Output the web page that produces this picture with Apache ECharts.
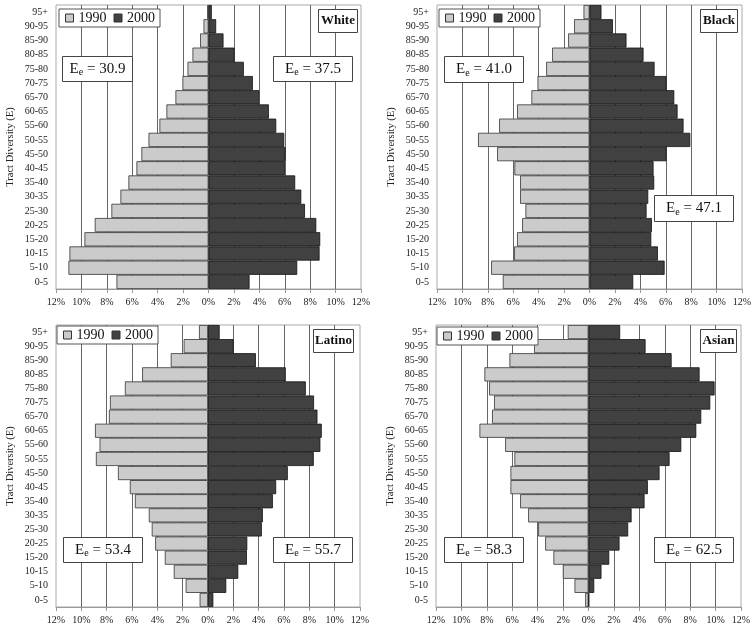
<!DOCTYPE html>
<html><head><meta charset="utf-8">
<script src="https://cdn.jsdelivr.net/npm/echarts@6/dist/echarts.min.js"></script>
<style>html,body{margin:0;padding:0;background:#fff}#c{width:756px;height:631px}</style>
</head><body><div id="c"></div>
<script>
// Categories bottom -> top
const categories = ['0-5','5-10','10-15','15-20','20-25','25-30','30-35','35-40','40-45','45-50','50-55','55-60','60-65','65-70','70-75','75-80','80-85','85-90','90-95','95+'];
const seriesNames = ['1990', '2000'];
const panelNames = ['White', 'Black', 'Latino', 'Asian'];

const white1990 = [7.24, 11.02, 10.94, 9.76, 8.95, 7.64, 6.93, 6.3, 5.67, 5.28, 4.72, 3.86, 3.31, 2.6, 2.05, 1.65, 1.26, 0.66, 0.39, 0.1];
const white2000 = [3.23, 6.98, 8.74, 8.79, 8.48, 7.59, 7.3, 6.82, 6.01, 6.06, 5.96, 5.33, 4.75, 3.99, 3.49, 2.78, 2.05, 1.18, 0.6, 0.26];
const black1990 = [6.82, 7.74, 5.93, 5.7, 5.3, 5.04, 5.46, 5.46, 5.91, 7.27, 8.77, 7.11, 5.7, 4.57, 4.09, 3.41, 2.94, 1.68, 1.21, 0.47];
const black2000 = [3.44, 5.91, 5.38, 4.86, 4.91, 4.49, 4.62, 5.09, 5.04, 6.06, 7.93, 7.4, 6.93, 6.67, 6.06, 5.12, 4.25, 2.91, 1.84, 0.94];
const latino1990 = [0.66, 1.76, 2.7, 3.41, 4.17, 4.44, 4.67, 5.77, 6.17, 7.11, 8.85, 8.56, 8.92, 7.82, 7.74, 6.56, 5.2, 2.94, 1.92, 0.71];
const latino2000 = [0.42, 1.44, 2.39, 3.07, 3.1, 4.25, 4.33, 5.12, 5.38, 6.3, 8.35, 8.87, 8.98, 8.64, 8.37, 7.72, 6.14, 3.78, 2.02, 0.92];
const asian1990 = [0.26, 1.1, 2.02, 2.76, 3.41, 3.96, 4.75, 5.38, 6.14, 6.14, 5.83, 6.56, 8.58, 7.59, 7.43, 7.82, 8.19, 6.22, 4.28, 1.63];
const asian2000 = [0.05, 0.45, 1.02, 1.63, 2.44, 3.12, 3.39, 4.41, 4.67, 5.59, 6.38, 7.3, 8.48, 8.87, 9.58, 9.92, 8.74, 6.54, 4.49, 2.49];

const ee1990 = ['30.9', '41.0', '53.4', '58.3'];
const ee2000 = ['37.5', '47.1', '55.7', '62.5'];

const data1990 = [white1990, black1990, latino1990, asian1990];
const data2000 = [white2000, black2000, latino2000, asian2000];

const FONT = "'Liberation Serif','Times New Roman',serif";

// layout
const grids = [
  {left: 56, top: 5, width: 305, height: 284},
  {left: 437, top: 5, width: 305, height: 284},
  {left: 56, top: 325, width: 304, height: 282},
  {left: 436, top: 325, width: 305, height: 282}
];
const legendPos = [[59, 9], [439, 9], [57, 326], [437, 327]];
const labelBoxes = [[318, 9, 39, 23], [700, 9, 37, 23], [313, 329, 40, 23], [700, 329, 36, 23]];
const eeLeftBoxes = [[62, 56, 70, 25], [444, 56, 79, 26], [63, 537, 79, 25], [444, 537, 79, 25]];
const eeRightBoxes = [[273, 56, 79, 25], [654, 195, 79, 26], [273, 537, 79, 25], [654, 537, 79, 25]];

const option = {
  animation: false,
  backgroundColor: '#fff',
  grid: grids.map(g => Object.assign({show: true, borderColor: '#aaa', borderWidth: 1, backgroundColor: 'transparent'}, g)),
  xAxis: grids.map((g, i) => ({
    type: 'value', gridIndex: i, min: -12, max: 12, interval: 2,
    axisLine: {show: true, lineStyle: {color: '#999'}},
    axisTick: {show: true, inside: false, length: 4, lineStyle: {color: '#999'}},
    axisLabel: {formatter: v => Math.abs(v) + '%', fontFamily: FONT, fontSize: 10, color: '#222', margin: 8},
    splitLine: {show: true, showMinLine: false, showMaxLine: false, lineStyle: {color: '#666', width: 1}}
  })),
  yAxis: grids.map((g, i) => ({
    type: 'category', gridIndex: i, data: categories,
    axisLine: {show: true, lineStyle: {color: '#aaa'}},
    axisTick: {show: false},
    axisLabel: {fontFamily: FONT, fontSize: 10, color: '#222', margin: 8},
    name: 'Tract Diversity (E)', nameLocation: 'middle', nameGap: 40,
    nameTextStyle: {fontFamily: FONT, fontSize: 10.5, color: '#222'},
    splitLine: {show: false}
  })),
  legend: legendPos.map(p => ({
    data: seriesNames, left: p[0], top: p[1], orient: 'horizontal',
    itemWidth: 8, itemHeight: 8, itemGap: 7, icon: 'rect', selectedMode: false,
    borderColor: '#555', borderWidth: 1, backgroundColor: '#fff', padding: [2, 5, 2, 6],
    textStyle: {fontFamily: FONT, fontSize: 14, color: '#111'},
    itemStyle: {borderColor: '#333', borderWidth: 1}
  })),
  series: [],
  graphic: []
};

for (let i = 0; i < 4; i++) {
  option.series.push({
    type: 'bar', name: seriesNames[0], xAxisIndex: i, yAxisIndex: i,
    data: data1990[i].map(v => -v), barGap: '-100%', barCategoryGap: '0%',
    itemStyle: {color: '#cbcbcb', borderColor: '#333', borderWidth: 0.8}
  });
  option.series.push({
    type: 'bar', name: seriesNames[1], xAxisIndex: i, yAxisIndex: i,
    data: data2000[i], barGap: '-100%', barCategoryGap: '0%',
    itemStyle: {color: '#414141', borderColor: '#111', borderWidth: 0.8}
  });
}

function box(b, textStyle) {
  return {
    type: 'group', x: b[0], y: b[1], z: 100,
    children: [
      {type: 'rect', z: 100, shape: {x: 0.5, y: 0.5, width: b[2], height: b[3]}, style: {fill: '#fff', stroke: '#444', lineWidth: 1}},
      {type: 'text', z: 101, x: b[2] / 2 + 0.5, y: b[3] / 2 + 0.5, style: Object.assign({align: 'center', verticalAlign: 'middle', textAlign: 'center', textVerticalAlign: 'middle', fill: '#111'}, textStyle)}
    ]
  };
}
const eeRich = {
  a: {fontFamily: FONT, fontSize: 15, color: '#111'},
  s: {fontFamily: FONT, fontSize: 10, color: '#111', padding: [7, 0, 0, 0]}
};
for (let i = 0; i < 4; i++) {
  option.graphic.push(box(labelBoxes[i], {text: panelNames[i], font: 'bold 13px ' + FONT}));
  option.graphic.push(box(eeLeftBoxes[i], {text: '{a|E}{s|e}{a| = ' + ee1990[i] + '}', rich: eeRich, font: '15px ' + FONT}));
  option.graphic.push(box(eeRightBoxes[i], {text: '{a|E}{s|e}{a| = ' + ee2000[i] + '}', rich: eeRich, font: '15px ' + FONT}));
}

const chart = echarts.init(document.getElementById('c'), null, {renderer: 'canvas'});
chart.setOption(option);
</script></body></html>
